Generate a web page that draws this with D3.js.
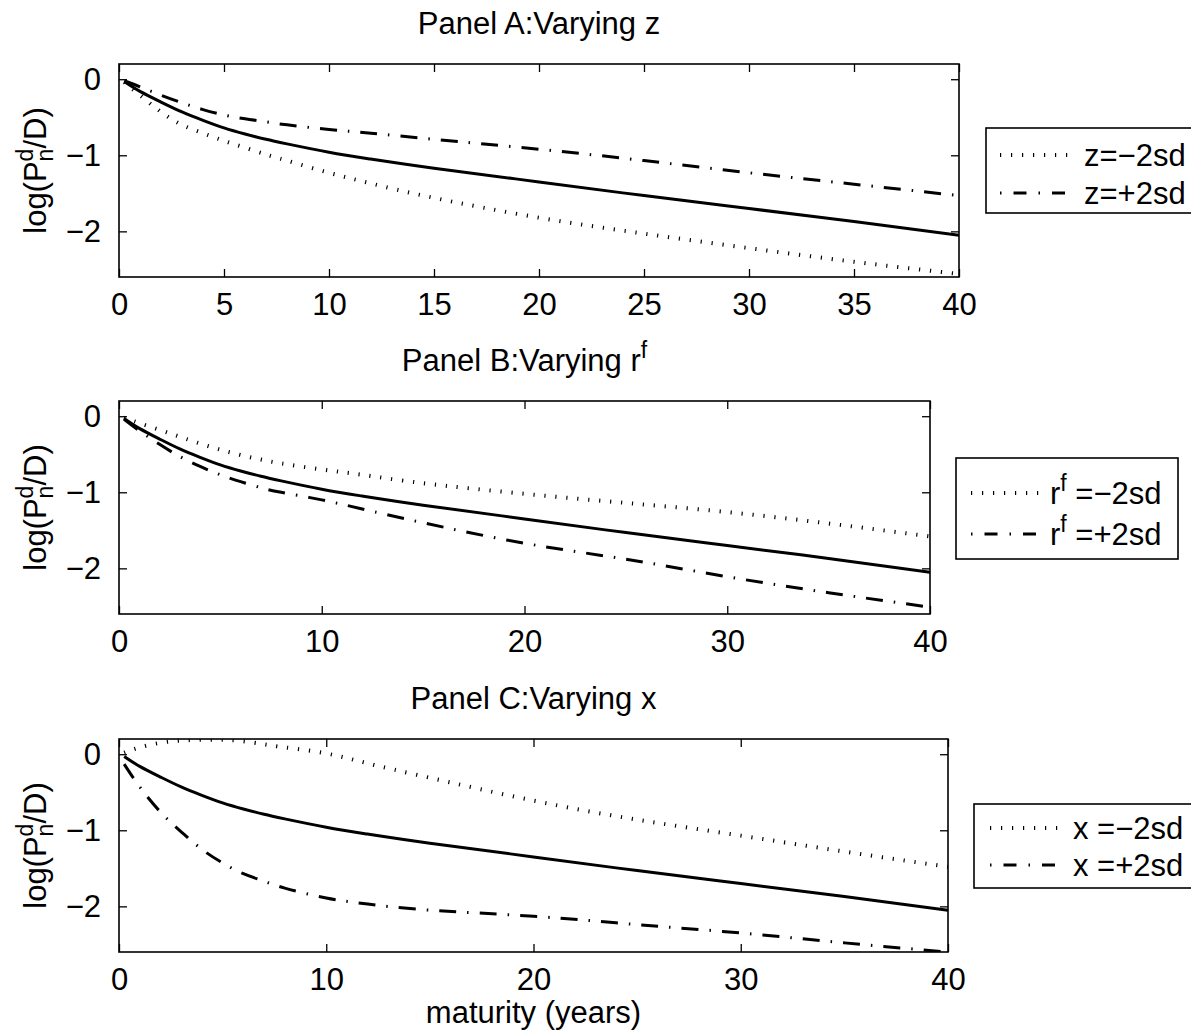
<!DOCTYPE html>
<html>
<head>
<meta charset="utf-8">
<script src="https://cdn.jsdelivr.net/npm/d3@7"></script>
<style>
body { margin: 0; background: #fff; }
text { font-family: "Liberation Sans", Arial, Helvetica, sans-serif; fill: #000; }
</style>
</head>
<body>
<div id="chart"></div>
<script>
// maturities (years) at which the curves are read
const maturity = [0.25, 1, 2, 3, 4, 5, 6, 7, 8, 10, 12, 15, 20, 25, 30, 35, 40];

// solid line, same in every panel
const baseline = [-0.03, -0.16, -0.30, -0.43, -0.54, -0.64, -0.72, -0.79, -0.85, -0.96, -1.05, -1.17, -1.35, -1.53, -1.70, -1.87, -2.05];

// panel A
const zMinus = [-0.04, -0.21, -0.43, -0.60, -0.71, -0.81, -0.90, -0.99, -1.07, -1.23, -1.37, -1.56, -1.82, -2.03, -2.22, -2.40, -2.56];
const zPlus  = [-0.02, -0.10, -0.21, -0.31, -0.40, -0.47, -0.52, -0.56, -0.60, -0.66, -0.71, -0.79, -0.92, -1.07, -1.23, -1.38, -1.53];

// panel B
const rfMinus = [-0.02, -0.09, -0.18, -0.27, -0.36, -0.44, -0.51, -0.57, -0.62, -0.70, -0.77, -0.88, -1.02, -1.14, -1.26, -1.41, -1.58];
const rfPlus  = [-0.04, -0.19, -0.37, -0.53, -0.66, -0.77, -0.86, -0.94, -1.00, -1.10, -1.22, -1.40, -1.67, -1.88, -2.11, -2.32, -2.51];

// panel C
const xMinus = [0.02, 0.09, 0.15, 0.18, 0.19, 0.19, 0.17, 0.13, 0.09, 0.01, -0.12, -0.31, -0.61, -0.86, -1.07, -1.28, -1.48];
const xPlus  = [-0.13, -0.43, -0.76, -1.02, -1.25, -1.43, -1.57, -1.67, -1.76, -1.89, -1.97, -2.05, -2.13, -2.24, -2.35, -2.48, -2.60];

const yTicks = [0, -1, -2];
const xTicksA = [0, 5, 10, 15, 20, 25, 30, 35, 40];
const xTicksBC = [0, 10, 20, 30, 40];

const FS = 31;
const SUB = 23;
const svg = d3.select("#chart").append("svg")
  .attr("width", 1191)
  .attr("height", 1031)
  .style("background-color", "white");

// parts: [text, kind] kind = "" | "sup" | "sub" (sub stacked under previous sup)
function richText(sel, parts, supSize) {
  let shift = 0;
  parts.forEach(p => {
    const t = sel.append("tspan").text(p[0]);
    if (p[1] === "sup") {
      t.attr("font-size", supSize).attr("dy", -13 - shift);
      shift = -13;
    } else if (p[1] === "sub") {
      t.attr("font-size", supSize).attr("dx", -0.556 * supSize).attr("dy", 20);
      shift = 7;
    } else if (shift !== 0) {
      t.attr("dy", -shift);
      shift = 0;
    }
  });
}

const panels = [
  { title: [["Panel A:Varying z", ""]], left: 119, right: 959, top: 64, bottom: 277,
    xTicks: xTicksA, lo: zMinus, hi: zPlus,
    leg: { x: 986, y: 128, w: 210, h: 85, rows: [27, 65], sx: 1000, sw: 72, tx: 1084,
      labels: [[["z=\u22122sd", ""]], [["z=+2sd", ""]]] } },
  { title: [["Panel B:Varying r", ""], ["f", "sup"]], left: 119, right: 930, top: 401, bottom: 614,
    xTicks: xTicksBC, lo: rfMinus, hi: rfPlus,
    leg: { x: 956, y: 458, w: 222, h: 101, rows: [35, 76], sx: 971, sw: 68, tx: 1050,
      labels: [[["r", ""], ["f", "sup"], [" =\u22122sd", ""]], [["r", ""], ["f", "sup"], [" =+2sd", ""]]] } },
  { title: [["Panel C:Varying x", ""]], left: 119, right: 948, top: 739, bottom: 952,
    xTicks: xTicksBC, lo: xMinus, hi: xPlus, xlabel: "maturity (years)",
    leg: { x: 974, y: 804, w: 222, h: 84, rows: [24, 61], sx: 990, sw: 72, tx: 1073,
      labels: [[["x =\u22122sd", ""]], [["x =+2sd", ""]]] } }
];

const dotted = { width: 4, dash: "1.2 9.8", legDash: "1.2 9.8", offset: 0 };
const dashdot = { width: 3, dash: "17 11 1.5 11", legDash: "13 12 1.5 12", offset: 25 };

panels.forEach((p, i) => {
  const x = d3.scaleLinear().domain([0, 40]).range([p.left, p.right]);
  const y = d3.scaleLinear().domain([-2.6, 0.2]).range([p.bottom, p.top]);
  const g = svg.append("g");

  g.append("clipPath").attr("id", "clip" + i)
    .append("rect")
    .attr("x", p.left).attr("y", p.top)
    .attr("width", p.right - p.left).attr("height", p.bottom - p.top);

  // axes with inward ticks on all four sides
  g.append("g").attr("transform", `translate(0,${p.bottom})`)
    .call(d3.axisBottom(x).tickValues(p.xTicks).tickFormat(d3.format("d"))
      .tickSizeInner(-8).tickSizeOuter(0).tickPadding(16));
  g.append("g").attr("transform", `translate(0,${p.top})`)
    .call(d3.axisTop(x).tickValues(p.xTicks).tickFormat("").tickSizeInner(-8).tickSizeOuter(0));
  g.append("g").attr("transform", `translate(${p.left},0)`)
    .call(d3.axisLeft(y).tickValues(yTicks).tickFormat(d3.format("d"))
      .tickSizeInner(-8).tickSizeOuter(0).tickPadding(18));
  g.append("g").attr("transform", `translate(${p.right},0)`)
    .call(d3.axisRight(y).tickValues(yTicks).tickFormat("").tickSizeInner(-8).tickSizeOuter(0));

  g.selectAll(".domain").remove();
  g.selectAll(".tick line").attr("stroke", "#000").attr("stroke-width", 1.3);
  g.selectAll(".tick text").attr("font-size", FS)
    .attr("font-family", '"Liberation Sans", Arial, sans-serif').attr("fill", "#000");

  const line = d3.line()
    .x((d, k) => x(maturity[k]))
    .y(d => y(d))
    .curve(d3.curveNatural);

  const plot = g.append("g").attr("clip-path", `url(#clip${i})`);
  plot.append("path").attr("d", line(baseline))
    .attr("fill", "none").attr("stroke", "#000").attr("stroke-width", 3);
  plot.append("path").attr("d", line(p.lo))
    .attr("fill", "none").attr("stroke", "#000").attr("stroke-width", dotted.width)
    .attr("stroke-dasharray", dotted.dash);
  plot.append("path").attr("d", line(p.hi))
    .attr("fill", "none").attr("stroke", "#000").attr("stroke-width", dashdot.width)
    .attr("stroke-dasharray", dashdot.dash);

  g.append("rect")
    .attr("x", p.left).attr("y", p.top)
    .attr("width", p.right - p.left).attr("height", p.bottom - p.top)
    .attr("fill", "none").attr("stroke", "#000").attr("stroke-width", 1.6);

  // title
  const title = g.append("text")
    .attr("x", (p.left + p.right) / 2).attr("y", p.top - 30)
    .attr("text-anchor", "middle").attr("font-size", FS);
  richText(title, p.title, SUB);

  // y label
  const ylab = g.append("text")
    .attr("transform", `translate(46,${(p.top + p.bottom) / 2}) rotate(-90)`)
    .attr("text-anchor", "middle").attr("font-size", FS);
  richText(ylab, [["log(P", ""], ["d", "sup"], ["n", "sub"], ["/D)", ""]], SUB);

  if (p.xlabel) {
    g.append("text")
      .attr("x", (p.left + p.right) / 2).attr("y", p.bottom + 71)
      .attr("text-anchor", "middle").attr("font-size", FS)
      .text(p.xlabel);
  }

  // legend
  const L = p.leg;
  const lg = g.append("g");
  lg.append("rect").attr("x", L.x).attr("y", L.y).attr("width", L.w).attr("height", L.h)
    .attr("fill", "#fff").attr("stroke", "#000").attr("stroke-width", 1.6);
  [dotted, dashdot].forEach((s, k) => {
    const cy = L.y + L.rows[k];
    lg.append("line")
      .attr("x1", L.sx).attr("x2", L.sx + L.sw).attr("y1", cy).attr("y2", cy)
      .attr("stroke", "#000").attr("stroke-width", s.width)
      .attr("stroke-dasharray", s.legDash).attr("stroke-dashoffset", s.offset);
    const t = lg.append("text").attr("x", L.tx).attr("y", cy + 11).attr("font-size", FS);
    richText(t, L.labels[k], SUB);
  });
});
</script>
</body>
</html>
